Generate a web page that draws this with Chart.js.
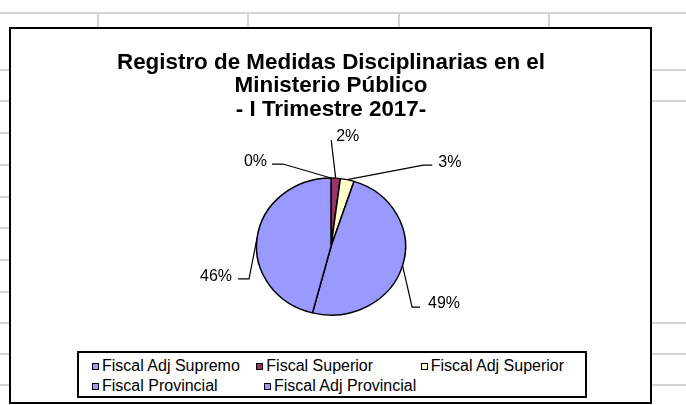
<!DOCTYPE html>
<html>
<head>
<meta charset="utf-8">
<script src="https://cdn.jsdelivr.net/npm/chart.js@4/dist/chart.umd.min.js"></script>
<style>
  html, body { margin:0; padding:0; background:#fff; }
  body { width:686px; height:405px; position:relative; overflow:hidden; font-family:"Liberation Sans", Arial, sans-serif; }
  .gl { position:absolute; background:#d4d4d4; }
  #box { position:absolute; left:9px; top:27px; width:643px; height:377px; box-sizing:border-box; border:2px solid #000; background:#fff; }
  #c { position:absolute; left:0; top:0; }
  #legend { position:absolute; left:66px; top:322px; width:510px; height:47px; box-sizing:border-box; border:2px solid #000; background:#fff; padding:3px 0 0 13px; }
  .row { display:flex; height:20px; align-items:center; }
  .item { width:172px; display:flex; align-items:center; font-size:16px; color:#000; white-space:nowrap; }
  .mk { width:7px; height:7px; box-sizing:border-box; border:1px solid #000; margin-right:3px; flex:none; }
</style>
</head>
<body>
<div id="grid"></div>
<div id="box">
  <canvas id="c" width="639" height="373"></canvas>
  <div id="legend"></div>
</div>
<script>
// ---- data ----
const categories = ["Fiscal Adj Supremo", "Fiscal Superior", "Fiscal Adj Superior", "Fiscal Provincial", "Fiscal Adj Provincial"];
const values = [0, 2, 3, 49, 46];
const titleLines = ["Registro de Medidas Disciplinarias en el", "Ministerio Público", "- I Trimestre 2017-"];
// ---- styles ----
const sliceColors = ["#9999FF", "#993366", "#FFFFCC", "#9999FF", "#9999FF"];

// spreadsheet background grid
(function(){
  const g = document.getElementById('grid');
  function line(l,t,w,h){ const d=document.createElement('div'); d.className='gl'; d.style.cssText=`left:${l}px;top:${t}px;width:${w}px;height:${h}px`; g.appendChild(d); }
  line(0,12,686,2);
  [97,247,398,548].forEach(x=>line(x,12,2,16));
  [70,101,133,165,197,228,260,292,323,354,385].forEach(y=>line(0,y-1,10,2));
  [70,101,323,354,385].forEach(y=>line(651,y-1,35,2));
})();

const STRETCH = 1.088;
const labelLayout = [
  {elbow:[-48,-14], end:[-59,-14], align:'right', text:[-5,-2]},
  {elbow:[-4.5,-38], end:[-4.5,-38], align:'left', text:[5,-4]},
  {elbow:[76,-14.5], end:[85,-14.5], align:'left', text:[6,-3]},
  {elbow:[9.5,41.5], end:[17.5,41.5], align:'left', text:[8,-4]},
  {elbow:[-8,41], end:[-19,41], align:'right', text:[-6,-2]}
];

const pieDecor = {
  id:'pieDecor',
  beforeDatasetsDraw(chart){
    const ctx = chart.ctx;
    const a = chart.getDatasetMeta(0).data[0];
    ctx.save();
    ctx.translate(a.x,0); ctx.scale(STRETCH,1); ctx.translate(-a.x,0);
  },
  afterDatasetsDraw(chart){
    const ctx = chart.ctx;
    ctx.restore();
    const total = values.reduce((s,v)=>s+v,0);
    ctx.save();
    ctx.strokeStyle='#000'; ctx.lineWidth=1.2; ctx.fillStyle='#000';
    ctx.font = '16px "Liberation Sans", Arial, sans-serif';
    ctx.textBaseline='middle';
    chart.getDatasetMeta(0).data.forEach((arc,i)=>{
      const p = arc.getProps(['x','y','startAngle','endAngle','outerRadius'], true);
      const mid = (p.startAngle+p.endAngle)/2;
      const ex = p.x + Math.cos(mid)*p.outerRadius*STRETCH;
      const ey = p.y + Math.sin(mid)*p.outerRadius;
      const L = labelLayout[i];
      ctx.beginPath();
      ctx.moveTo(ex,ey);
      ctx.lineTo(ex+L.elbow[0], ey+L.elbow[1]);
      ctx.lineTo(ex+L.end[0], ey+L.end[1]);
      ctx.stroke();
      ctx.textAlign = L.align;
      const pct = Math.round(values[i]/total*100)+'%';
      ctx.fillText(pct, ex+L.end[0]+L.text[0], ey+L.end[1]+L.text[1]);
    });
    ctx.restore();
  }
};

const chart = new Chart(document.getElementById('c'), {
  type:'pie',
  data:{ labels:categories, datasets:[{ data:values, backgroundColor:sliceColors, borderColor:'#000', borderWidth:1.4, radius:68.5 }] },
  options:{
    responsive:false, animation:false, events:[],
    layout:{ padding:{ left:1, right:0, top:0, bottom:30.5 } },
    plugins:{
      legend:{ display:false },
      tooltip:{ enabled:false },
      title:{ display:true, text:titleLines, color:'#000',
        font:{ family:'"Liberation Sans", Arial, sans-serif', size:22.4, weight:'bold', lineHeight:1.05 },
        padding:{ top:22, bottom:0 } }
    }
  },
  plugins:[pieDecor]
});

// HTML legend built from chart data
(function(){
  const lg = document.getElementById('legend');
  const perRow = 3;
  let row;
  categories.forEach((c,i)=>{
    if(i%perRow===0){ row=document.createElement('div'); row.className='row'; lg.appendChild(row); }
    const it=document.createElement('div'); it.className='item';
    const mk=document.createElement('span'); mk.className='mk'; mk.style.background=sliceColors[i];
    it.appendChild(mk); it.appendChild(document.createTextNode(c));
    row.appendChild(it);
  });
})();
</script>
</body>
</html>
